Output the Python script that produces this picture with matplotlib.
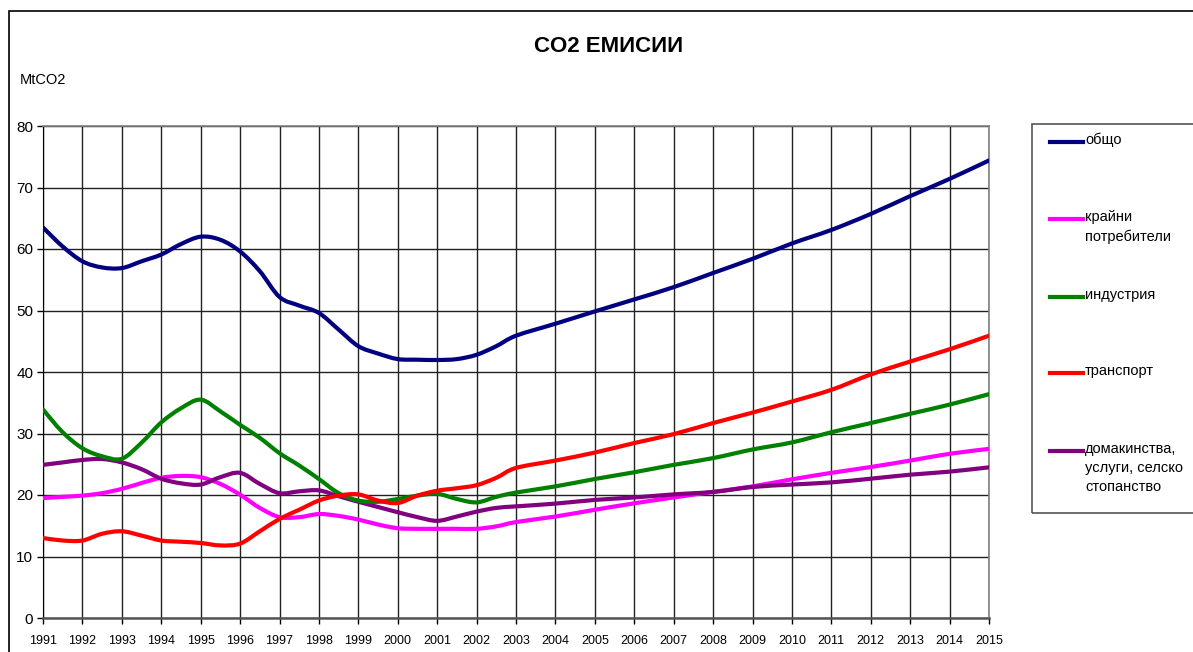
import matplotlib
matplotlib.use("Agg")
import matplotlib.pyplot as plt
from matplotlib.lines import Line2D
from matplotlib.patches import Rectangle, PathPatch
from matplotlib.path import Path

plt.rcParams['font.family'] = ['Liberation Sans', 'DejaVu Sans']

years = [1991, 1991.5, 1992, 1992.5, 1993, 1993.5, 1994, 1994.5, 1995, 1995.5,
         1996, 1996.5, 1997, 1997.5, 1998, 1998.5, 1999, 1999.5, 2000, 2000.5,
         2001, 2001.5, 2002, 2002.5, 2003, 2004, 2005, 2006, 2007, 2008, 2009,
         2010, 2011, 2012, 2013, 2014, 2015]

total = [63.5, 60.4, 58.0, 57.0, 56.9, 58.0, 59.1, 60.8, 62.0, 61.5,
         59.6, 56.4, 52.2, 50.8, 49.6, 46.9, 44.2, 43.0, 42.1, 42.0,
         41.95, 42.1, 42.8, 44.2, 45.9, 47.85, 49.85, 51.8, 53.8, 56.1, 58.4,
         60.9, 63.1, 65.7, 68.6, 71.4, 74.4]

final_consumers = [19.5, 19.7, 19.9, 20.3, 21.0, 21.95, 22.8, 23.1, 22.9, 21.8,
                   20.05, 17.9, 16.4, 16.4, 16.9, 16.6, 16.0, 15.2, 14.6, 14.5,
                   14.5, 14.5, 14.5, 14.9, 15.6, 16.5, 17.6, 18.65, 19.6, 20.5, 21.4,
                   22.55, 23.6, 24.55, 25.6, 26.7, 27.5]

industry = [33.9, 30.2, 27.6, 26.3, 25.9, 28.5, 31.8, 34.1, 35.5, 33.6,
            31.4, 29.3, 26.8, 24.8, 22.6, 20.3, 19.1, 18.9, 19.35, 19.9,
            20.2, 19.35, 18.8, 19.7, 20.4, 21.4, 22.6, 23.7, 24.9, 26.0, 27.4,
            28.55, 30.2, 31.7, 33.2, 34.7, 36.4]

transport = [13.0, 12.6, 12.6, 13.7, 14.1, 13.4, 12.6, 12.4, 12.2, 11.8,
             12.1, 14.1, 16.1, 17.6, 19.1, 19.9, 20.1, 19.1, 18.7, 19.9,
             20.7, 21.1, 21.6, 22.8, 24.4, 25.6, 26.9, 28.45, 29.9, 31.7, 33.4,
             35.2, 37.1, 39.6, 41.7, 43.7, 45.9]

households = [24.9, 25.3, 25.7, 25.85, 25.3, 24.2, 22.65, 21.9, 21.7, 22.9,
              23.6, 21.8, 20.3, 20.6, 20.75, 19.8, 18.9, 18.05, 17.2, 16.4,
              15.8, 16.5, 17.3, 17.9, 18.15, 18.6, 19.2, 19.6, 20.1, 20.5, 21.3,
              21.7, 22.05, 22.65, 23.3, 23.8, 24.5]

series_labels = ["общо", "крайни\nпотребители", "индустрия", "транспорт",
                 "домакинства,\nуслуги, селско\nстопанство"]
series_colors = ["#000080", "#FF00FF", "#008000", "#FF0000", "#800080"]
tick_years = list(range(1991, 2016))
y_ticks = [0, 10, 20, 30, 40, 50, 60, 70, 80]


def smooth_path(xs, ys):
    """Excel-style smoothed line: cubic Bezier segments through the points."""
    verts = [(xs[0], ys[0])]
    codes = [Path.MOVETO]
    n = len(xs)
    for i in range(n - 1):
        x0, y0 = xs[max(i - 1, 0)], ys[max(i - 1, 0)]
        x1, y1 = xs[i], ys[i]
        x2, y2 = xs[i + 1], ys[i + 1]
        x3, y3 = xs[min(i + 2, n - 1)], ys[min(i + 2, n - 1)]
        c1 = (x1 + (x2 - x0) / 6.0, y1 + (y2 - y0) / 6.0)
        c2 = (x2 - (x3 - x1) / 6.0, y2 - (y3 - y1) / 6.0)
        verts += [c1, c2, (x2, y2)]
        codes += [Path.CURVE4, Path.CURVE4, Path.CURVE4]
    return Path(verts, codes)


W, H = 1193, 652
fig = plt.figure(figsize=(W / 100, H / 100), dpi=100)
fig.patch.set_facecolor("white")

# outer chart border
fig.patches.append(Rectangle((9 / W, -0.1), 1.2, (H - 11) / H + 0.1,
                             transform=fig.transFigure, fill=False,
                             edgecolor="black", lw=1.2))

ax = fig.add_axes([43 / W, 1 - 618 / H, (989 - 43) / W, (618 - 126) / H])
ax.set_xlim(1991, 2015)
ax.set_ylim(0, 80)
ax.set_xticks(tick_years)
ax.set_xticklabels([str(y) for y in tick_years], fontsize=9)
ax.set_yticks(y_ticks)
ax.set_yticklabels([str(v) for v in y_ticks], fontsize=11)
ax.tick_params(axis="both", direction="out", length=4, width=1, color="black")
ax.tick_params(axis="x", pad=8)
ax.tick_params(axis="y", pad=3)
ax.grid(True, color="#222222", lw=1)
ax.set_axisbelow(True)
for s in ["top", "right"]:
    ax.spines[s].set_color("#808080")
    ax.spines[s].set_linewidth(1.2)
ax.spines["bottom"].set_color("#555555")
ax.spines["bottom"].set_linewidth(1.8)
ax.spines["left"].set_color("black")

data = [total, final_consumers, industry, transport, households]
order = [1, 4, 2, 3, 0]
for i in order:
    patch = PathPatch(smooth_path(years, data[i]), facecolor="none",
                      edgecolor=series_colors[i], lw=3.0, joinstyle="round",
                      capstyle="round", zorder=3)
    ax.add_patch(patch)

fig.text(609 / W, 1 - 47 / H, "CO2 ЕМИСИИ", ha="center", va="center",
         fontsize=16, fontweight="bold")
fig.text(20 / W, 1 - 80 / H, "MtCO2", ha="left", va="center", fontsize=10.5)

# legend box
fig.patches.append(Rectangle((1032 / W, 1 - 513 / H), 0.2, (513 - 124) / H,
                             transform=fig.transFigure, fill=False,
                             edgecolor="#555555", lw=1.2))
leg_y = [142, 219, 297, 373, 451]
for lab, col, yy in zip(series_labels, series_colors, leg_y):
    fig.lines.append(Line2D([1050 / W, 1083 / W], [1 - yy / H, 1 - yy / H],
                            transform=fig.transFigure, color=col, lw=3.0))
    fig.text(1085 / W, 1 - (yy - 9) / H, lab, ha="left", va="top",
             fontsize=10.5, linespacing=1.45)

fig.savefig("out.png", dpi=100)
